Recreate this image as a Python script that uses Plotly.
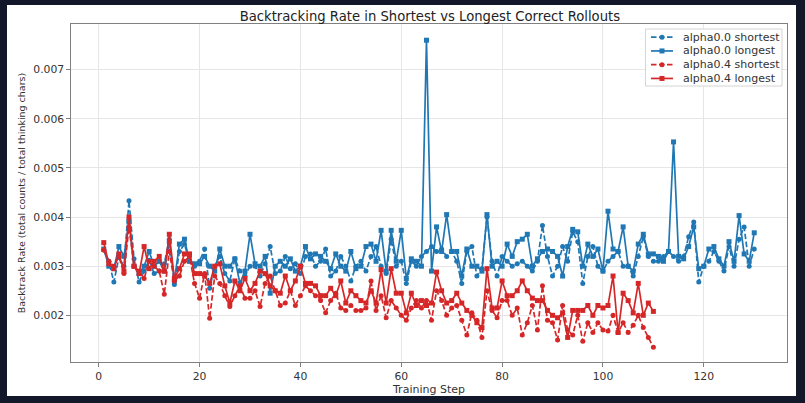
import plotly.graph_objects as go

# backtracking rate per training step
steps_a0 = list(range(1, 131))
steps_a4 = list(range(1, 111))

a0_shortest = [
    0.00333, 0.00310, 0.00268, 0.00318, 0.00300, 0.00433, 0.00315, 0.00268, 0.00290, 0.00312,
    0.00285, 0.00290, 0.00305, 0.00355, 0.00263, 0.00330, 0.00345, 0.00310, 0.00300, 0.00310,
    0.00335, 0.00255, 0.00300, 0.00320, 0.00285, 0.00270, 0.00315, 0.00290, 0.00280, 0.00300,
    0.00300, 0.00280, 0.00305, 0.00340, 0.00285, 0.00290, 0.00320, 0.00295, 0.00305, 0.00285,
    0.00320, 0.00325, 0.00300, 0.00310, 0.00335, 0.00280, 0.00290, 0.00320, 0.00300, 0.00270,
    0.00300, 0.00310, 0.00290, 0.00320, 0.00340, 0.00300, 0.00285, 0.00355, 0.00300, 0.00310,
    0.00265, 0.00310, 0.00300, 0.00320, 0.00330, 0.00340, 0.00330, 0.00335, 0.00320, 0.00330,
    0.00310, 0.00265, 0.00330, 0.00340, 0.00280, 0.00295, 0.00400, 0.00310, 0.00280, 0.00320,
    0.00310, 0.00300, 0.00305, 0.00310, 0.00300, 0.00290, 0.00310, 0.00383, 0.00320, 0.00280,
    0.00300, 0.00340, 0.00310, 0.00370, 0.00350, 0.00265, 0.00320, 0.00340, 0.00300, 0.00290,
    0.00310, 0.00320, 0.00330, 0.00300, 0.00300, 0.00280, 0.00320, 0.00360, 0.00320, 0.00310,
    0.00310, 0.00320, 0.00330, 0.00320, 0.00310, 0.00320, 0.00360, 0.00390, 0.00268, 0.00300,
    0.00310, 0.00330, 0.00310, 0.00290, 0.00340, 0.00300, 0.00355, 0.00380, 0.00300, 0.00335,
]
a0_longest = [
    0.00335, 0.00300, 0.00295, 0.00340, 0.00320, 0.00390, 0.00300, 0.00285, 0.00300, 0.00330,
    0.00300, 0.00310, 0.00290, 0.00350, 0.00270, 0.00345, 0.00355, 0.00310, 0.00305, 0.00305,
    0.00320, 0.00300, 0.00290, 0.00335, 0.00300, 0.00300, 0.00315, 0.00265, 0.00290, 0.00365,
    0.00305, 0.00300, 0.00320, 0.00245, 0.00300, 0.00310, 0.00300, 0.00315, 0.00290, 0.00300,
    0.00340, 0.00315, 0.00325, 0.00320, 0.00310, 0.00295, 0.00325, 0.00300, 0.00290, 0.00330,
    0.00295, 0.00300, 0.00340, 0.00345, 0.00310, 0.00373, 0.00290, 0.00373, 0.00310, 0.00373,
    0.00275, 0.00315, 0.00310, 0.00300, 0.00760, 0.00290, 0.00380, 0.00330, 0.00405, 0.00330,
    0.00330, 0.00280, 0.00335, 0.00300, 0.00300, 0.00290, 0.00405, 0.00300, 0.00310, 0.00300,
    0.00345, 0.00320, 0.00350, 0.00355, 0.00365, 0.00300, 0.00315, 0.00330, 0.00335, 0.00330,
    0.00320, 0.00280, 0.00340, 0.00375, 0.00370, 0.00300, 0.00345, 0.00320, 0.00335, 0.00290,
    0.00412, 0.00335, 0.00330, 0.00380, 0.00300, 0.00290, 0.00345, 0.00365, 0.00325, 0.00325,
    0.00320, 0.00310, 0.00330, 0.00553, 0.00320, 0.00315, 0.00340, 0.00380, 0.00295, 0.00300,
    0.00335, 0.00340, 0.00315, 0.00300, 0.00350, 0.00310, 0.00403, 0.00325, 0.00310, 0.00368,
]
a4_shortest = [
    0.00333, 0.00310, 0.00300, 0.00320, 0.00285, 0.00380, 0.00300, 0.00290, 0.00275, 0.00310,
    0.00300, 0.00290, 0.00243, 0.00330, 0.00270, 0.00280, 0.00310, 0.00320, 0.00265, 0.00235,
    0.00285, 0.00194, 0.00280, 0.00265, 0.00240, 0.00218, 0.00240, 0.00260, 0.00235, 0.00235,
    0.00250, 0.00218, 0.00265, 0.00280, 0.00250, 0.00220, 0.00225, 0.00250, 0.00220, 0.00240,
    0.00260, 0.00250, 0.00240, 0.00230, 0.00205, 0.00230, 0.00245, 0.00215, 0.00210, 0.00220,
    0.00210, 0.00210, 0.00215, 0.00270, 0.00210, 0.00240, 0.00195, 0.00230, 0.00215, 0.00200,
    0.00190, 0.00215, 0.00230, 0.00215, 0.00230, 0.00190, 0.00250, 0.00230, 0.00200, 0.00215,
    0.00220, 0.00190, 0.00160, 0.00205, 0.00190, 0.00155, 0.00250, 0.00210, 0.00195, 0.00230,
    0.00230, 0.00200, 0.00215, 0.00160, 0.00185, 0.00220, 0.00170, 0.00260, 0.00190, 0.00185,
    0.00150, 0.00220, 0.00170, 0.00160, 0.00200, 0.00147, 0.00185, 0.00165, 0.00185, 0.00170,
    0.00168, 0.00200, 0.00165, 0.00185, 0.00165, 0.00180, 0.00200, 0.00175, 0.00155, 0.00135,
]
a4_longest = [
    0.00348, 0.00305, 0.00295, 0.00325, 0.00290, 0.00400, 0.00300, 0.00285, 0.00340, 0.00295,
    0.00310, 0.00320, 0.00290, 0.00365, 0.00275, 0.00295, 0.00325, 0.00325, 0.00285, 0.00285,
    0.00280, 0.00265, 0.00300, 0.00305, 0.00260, 0.00225, 0.00270, 0.00250, 0.00275, 0.00250,
    0.00265, 0.00290, 0.00285, 0.00260, 0.00250, 0.00245, 0.00280, 0.00250, 0.00270, 0.00300,
    0.00265, 0.00265, 0.00260, 0.00240, 0.00240, 0.00255, 0.00240, 0.00270, 0.00225, 0.00250,
    0.00240, 0.00230, 0.00225, 0.00250, 0.00225, 0.00293, 0.00225, 0.00295, 0.00245, 0.00245,
    0.00205, 0.00245, 0.00220, 0.00230, 0.00220, 0.00225, 0.00288, 0.00250, 0.00225, 0.00230,
    0.00245, 0.00225, 0.00210, 0.00200, 0.00185, 0.00175, 0.00295, 0.00215, 0.00215, 0.00270,
    0.00240, 0.00240, 0.00250, 0.00270, 0.00250, 0.00235, 0.00230, 0.00230, 0.00210, 0.00200,
    0.00195, 0.00205, 0.00155, 0.00210, 0.00210, 0.00210, 0.00220, 0.00200, 0.00220, 0.00215,
    0.00220, 0.00280, 0.00165, 0.00245, 0.00230, 0.00205, 0.00265, 0.00200, 0.00225, 0.00208,
]

BLUE = '#1f77b4'
RED = '#d62728'
FONT = 'DejaVu Sans'
DASH = '5.5px,2.5px'

series = [
    ('alpha0.0 shortest', steps_a0, a0_shortest, BLUE, DASH, 'circle'),
    ('alpha0.0 longest', steps_a0, a0_longest, BLUE, 'solid', 'square'),
    ('alpha0.4 shortest', steps_a4, a4_shortest, RED, DASH, 'circle'),
    ('alpha0.4 longest', steps_a4, a4_longest, RED, 'solid', 'square'),
]

W, H = 805, 403
L, R, T, B = 71, 18, 24, 41
PW, PH = W - L - R, H - T - B

def px_x(px):
    #pixel column -> paper x
    return (px - L) / PW

def px_y(py):
    #pixel row -> paper y
    return (H - B - py) / PH

fig = go.Figure()
for name, xs, ys, col, dash, sym in series:
    fig.add_trace(go.Scatter(x=xs, y=ys, name=name, mode='lines+markers', showlegend=False,
                             line=dict(color=col, width=1.7, dash=dash),
                             marker=dict(color=col, size=5, symbol=sym)))

#white figure sitting on the dark page frame
fig.add_shape(type='rect', xref='paper', yref='paper', x0=px_x(7), x1=px_x(796), y0=px_y(396), y1=px_y(5),
              fillcolor='white', line=dict(width=0), layer='below')

#legend drawn by hand so the rows sit as tight as the matplotlib one
fig.add_shape(type='rect', xref='paper', yref='paper', x0=px_x(645.5), x1=px_x(782), y0=px_y(86), y1=px_y(29),
              fillcolor='rgba(255,255,255,0.9)', line=dict(color='#d4d4d4', width=1), layer='above')
for i, (name, xs, ys, col, dash, sym) in enumerate(series):
    yc = 37.2 + i * 13.75
    fig.add_shape(type='line', xref='paper', yref='paper', x0=px_x(651), x1=px_x(673), y0=px_y(yc), y1=px_y(yc),
                  line=dict(color=col, width=1.7, dash=dash), layer='above')
    fig.add_shape(type='circle' if sym == 'circle' else 'rect', xref='paper', yref='paper',
                  x0=px_x(659.5), x1=px_x(664.5), y0=px_y(yc + 2.5), y1=px_y(yc - 2.5),
                  fillcolor=col, line=dict(width=0), layer='above')
    fig.add_annotation(text=name, xref='paper', yref='paper', x=px_x(681), y=px_y(yc), xanchor='left',
                       yanchor='middle', showarrow=False, font=dict(family=FONT, size=11, color='#333'))

axis_common = dict(showgrid=True, gridcolor='#e6e6e6', gridwidth=1, showline=True, linecolor='#808080',
                   linewidth=1.2, mirror=True, ticks='outside', ticklen=3.5, tickcolor='#808080',
                   tickfont=dict(family=FONT, size=10.8, color='#333'), zeroline=False)

fig.update_xaxes(range=[-5.5, 136.5], tickvals=[0, 20, 40, 60, 80, 100, 120],
                 title=dict(text='Training Step', font=dict(family=FONT, size=11, color='#333'), standoff=1),
                 **axis_common)
fig.update_yaxes(range=[0.00105, 0.00793], tickvals=[0.002, 0.003, 0.004, 0.005, 0.006, 0.007], tickformat='.3f',
                 title=dict(text='Backtrack Rate (total counts / total thinking chars)',
                            font=dict(family=FONT, size=9.5, color='#333'), standoff=5),
                 **axis_common)

fig.update_layout(
    width=W, height=H,
    paper_bgcolor='#121829', plot_bgcolor='white',
    margin=dict(l=L, r=R, t=T, b=B),
    title=dict(text='Backtracking Rate in Shortest vs Longest Correct Rollouts', x=0.534, xanchor='center',
               y=0.96, yanchor='middle', font=dict(family=FONT, size=13.2, color='#222')),
    showlegend=False,
)

#drop the default 8px body margin so the figure sits at the window corner
fig.write_html('out.html', config={'displayModeBar': False},
               post_script="document.body.style.margin='0';document.body.style.background='#121829';")
